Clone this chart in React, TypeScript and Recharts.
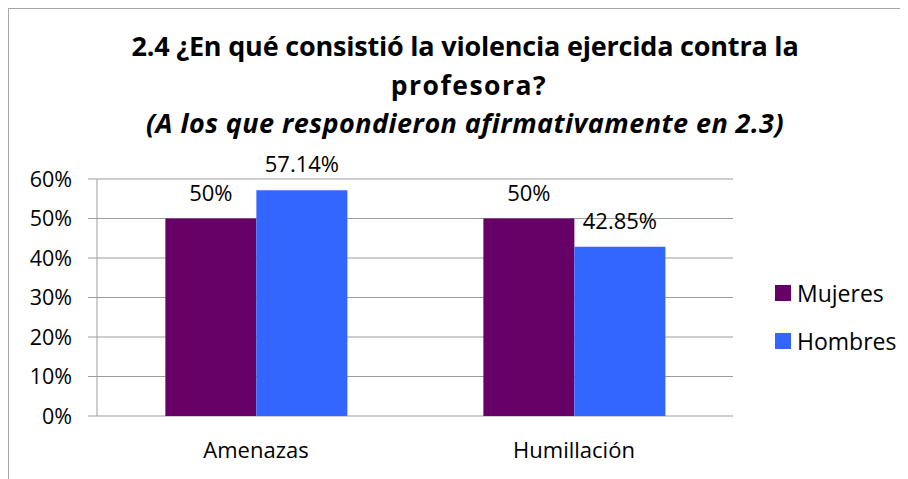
import { Bar, BarChart, CartesianGrid, LabelList, XAxis, YAxis } from "recharts";

const categories = ["Amenazas", "Humillación"];
const mujeres = [50, 50];
const hombres = [57.14, 42.85];
const yTicks = [0, 10, 20, 30, 40, 50, 60];

const series = [
  { key: "mujeres", name: "Mujeres", color: "#660066", values: mujeres },
  { key: "hombres", name: "Hombres", color: "#3366FF", values: hombres }
];

const titleLines = [
  "2.4 ¿En qué consistió la violencia ejercida contra la",
  "profesora?",
  "(A los que respondieron afirmativamente en 2.3)"
];

const data = categories.map((name, i) => ({
  name,
  mujeres: mujeres[i],
  hombres: hombres[i]
}));

const edgeTicks = categories.map((_, i) => i).concat(categories.length);

const gray = "#9d9d9d";
const pct = (v: number) => `${v}%`;

// per-line tweaks so the widths follow the original Calibri title
const titleTop = [22, 61, 99];
const titleLeft = [0, 4, 0];
const titleSpacing = [-0.2, 1.5, 0.45];

export default function App() {
  return (
    <div
      style={{
        position: "relative",
        width: 908,
        height: 479,
        borderTop: "1px solid #a6a6a6",
        borderLeft: "1px solid #a6a6a6",
        fontFamily: "'Open Sans', sans-serif",
        color: "#000"
      }}
    >
      {titleLines.map((line, i) => (
        <div
          key={i}
          style={{
            position: "absolute",
            left: titleLeft[i],
            width: 912,
            top: titleTop[i],
            lineHeight: "30px",
            textAlign: "center",
            fontSize: i === 1 ? 26.5 : 27,
            fontWeight: 700,
            letterSpacing: titleSpacing[i],
            fontStyle: i === 2 ? "italic" : "normal",
            whiteSpace: "nowrap"
          }}
        >
          {line}
        </div>
      ))}

      <div style={{ position: "absolute", left: 0, top: 0 }}>
        <BarChart
          width={899}
          height={470}
          data={data}
          margin={{ top: 170, right: 175, bottom: 23, left: 0 }}
          barCategoryGap="21.5%"
          barGap={0}
        >
          <CartesianGrid vertical={false} stroke={gray} />
          <XAxis
            xAxisId="edges"
            type="number"
            domain={[0, categories.length]}
            ticks={edgeTicks}
            tickFormatter={() => ""}
            tickSize={8}
            height={0}
            stroke={gray}
            tickLine={{ stroke: gray }}
            axisLine={{ stroke: gray }}
          />
          <XAxis
            dataKey="name"
            height={40}
            axisLine={false}
            tickLine={false}
            tickSize={0}
            tickMargin={26}
            tick={{ fill: "#000", fontSize: 22 }}
          />
          <YAxis
            width={88}
            domain={[0, 60]}
            ticks={yTicks}
            tickFormatter={pct}
            tickSize={9}
            tickMargin={16}
            axisLine={{ stroke: gray }}
            tickLine={{ stroke: gray }}
            tick={{ fill: "#000", fontSize: 21.5 }}
          />
          {series.map((s) => (
            <Bar key={s.key} dataKey={s.key} name={s.name} fill={s.color} isAnimationActive={false}>
              <LabelList
                dataKey={s.key}
                position="top"
                offset={18}
                formatter={(v: number) => pct(v)}
                style={{ fill: "#000", fontSize: 22 }}
              />
            </Bar>
          ))}
        </BarChart>
      </div>

      {series.map((s, i) => (
        <div
          key={s.key}
          style={{
            position: "absolute",
            left: 766,
            top: 269 + i * 48,
            height: 30,
            display: "flex",
            alignItems: "center",
            fontSize: 23
          }}
        >
          <span style={{ width: 16, height: 16, background: s.color, display: "inline-block", marginRight: 6 }} />
          <span>{s.name}</span>
        </div>
      ))}
    </div>
  );
}
